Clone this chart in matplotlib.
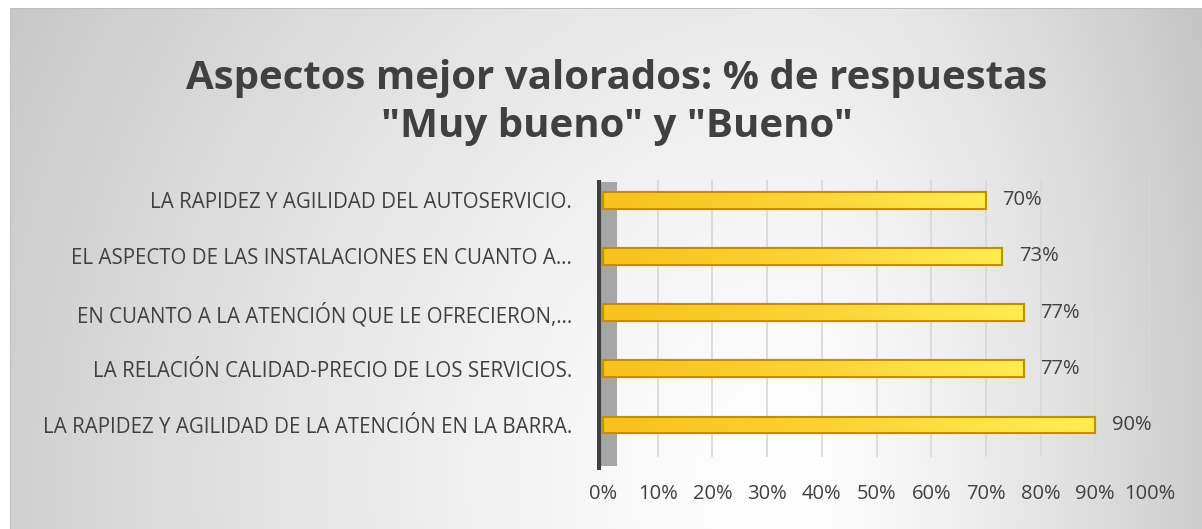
import numpy as np
import matplotlib.pyplot as plt
from matplotlib.patches import Rectangle
from matplotlib.colors import LinearSegmentedColormap

# Data (top to bottom as shown in the chart)
categories = [
    "LA RAPIDEZ Y AGILIDAD DEL AUTOSERVICIO.",
    "EL ASPECTO DE LAS INSTALACIONES EN CUANTO A…",
    "EN CUANTO A LA ATENCIÓN QUE LE OFRECIERON,…",
    "LA RELACIÓN CALIDAD-PRECIO DE LOS SERVICIOS.",
    "LA RAPIDEZ Y AGILIDAD DE LA ATENCIÓN EN LA BARRA.",
]
values = [0.70, 0.73, 0.77, 0.77, 0.90]
tick_vals = [0.0, 0.1, 0.2, 0.3, 0.4, 0.5, 0.6, 0.7, 0.8, 0.9, 1.0]
tick_labels = ["0%", "10%", "20%", "30%", "40%", "50%", "60%", "70%", "80%", "90%", "100%"]
title = 'Aspectos mejor valorados: % de respuestas\n"Muy bueno" y "Bueno"'

plt.rcParams['font.family'] = ['Open Sans', 'DejaVu Sans']
txt_col = "#404040"

W, H = 1202, 529
fig = plt.figure(figsize=(W / 100, H / 100), dpi=100)
fig.patch.set_facecolor("white")

# chart-area background: light near the bottom centre, gray towards the edges
bg = fig.add_axes([10 / W, 0, 1 - 10 / W, 1 - 8 / H])
bg.set_axis_off()
gx, gy = np.meshgrid(np.linspace(10, W, 400), np.linspace(8, H, 200))
dx = gx - 790
sx = np.where(dx < 0, 900.0, 450.0)
r = np.sqrt((dx / sx) ** 2 + ((gy - 480) / 1000.0) ** 2)
shade = 1.0 - 0.22 * np.clip(r, 0, 1.05) ** 1.3
bg.imshow(np.dstack([shade, shade, shade]), extent=(0, 1, 0, 1), aspect="auto",
          origin="upper")
bg.set_xlim(0, 1)
bg.set_ylim(0, 1)
bg.plot([0, 1], [1, 1], color="#BFBFBF", lw=1.5)
bg.plot([0, 0], [0, 1], color="#BFBFBF", lw=1.5)

# plot axes
left_px, right_px, top_px, bot_px = 597, 1150, 180, 470
ax = fig.add_axes([left_px / W, 1 - bot_px / H, (right_px - left_px) / W, (bot_px - top_px) / H])
ax.patch.set_alpha(0)

for x in tick_vals[1:]:
    ax.axvline(x, ymin=0.05, color="#D9D9D9", lw=1.3, zorder=1)

# left wall
ax.add_patch(Rectangle((-0.011, -0.33), 0.036, 5.05, facecolor="#A6A6A6",
                       edgecolor="none", zorder=1))
ax.axvline(-0.008, color="#404040", lw=3, zorder=2)

ypos = np.arange(len(categories))
bars = ax.barh(ypos, values, height=0.30, color="#F9C623", edgecolor="#BF9000",
               linewidth=1.5, zorder=3)

# horizontal yellow gradient inside each bar
grad = np.linspace(0, 1, 256).reshape(1, -1)
cmap = LinearSegmentedColormap.from_list("y", ["#F8C11C", "#FCD335", "#FFEC50"])
for b in bars:
    x0, y0 = b.get_x(), b.get_y()
    w, h = b.get_width(), b.get_height()
    im = ax.imshow(grad, extent=(x0, x0 + w, y0 + h, y0), aspect="auto", cmap=cmap,
                   vmin=0, vmax=1.3 - w * 0.4, zorder=3.5)
    im.set_clip_path(b)
    ax.add_patch(Rectangle((x0, y0), w, h, facecolor="none", edgecolor="#BF9000",
                           linewidth=1.5, zorder=4))

for y, v in zip(ypos, values):
    ax.text(v + 0.03, y, f"{v:.0%}", va="center", ha="left", fontsize=14.5,
            color=txt_col, zorder=5)

ax.set_xlim(-0.011, 1.0)
ax.set_ylim(4.8, -0.36)
ax.set_yticks(ypos)
ax.set_yticklabels(categories, fontsize=14.8, color=txt_col)
ax.set_xticks(tick_vals)
ax.set_xticklabels(tick_labels, fontsize=14.5, color=txt_col)
ax.tick_params(axis="both", length=0)
ax.tick_params(axis="y", pad=18)
ax.tick_params(axis="x", pad=10)
for s in ax.spines.values():
    s.set_visible(False)

fig.text(617 / W, 1 - 103 / H, title, ha="center", va="center", fontsize=29,
         fontweight="bold", color=txt_col, linespacing=1.3)

fig.savefig("out.png", dpi=100)
